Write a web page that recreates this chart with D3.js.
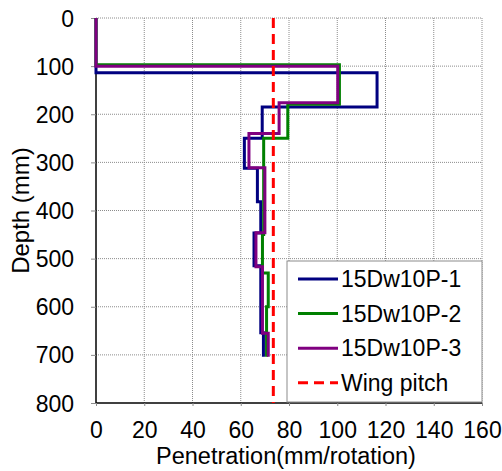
<!DOCTYPE html>
<html>
<head>
<meta charset="utf-8">
<script src="https://cdn.jsdelivr.net/npm/d3@7"></script>
<style>
  body { margin: 0; background: #fff; }
  text { font-family: Arial, "Liberation Sans", sans-serif; fill: #000; }
</style>
</head>
<body>
<div id="chart-container"></div>
<script>
// Series data: depth boundaries (mm) and the penetration value on each interval
const names = ["15Dw10P-1", "15Dw10P-2", "15Dw10P-3"];
const colors = ["#000080", "#008000", "#800080"];

const depths1 = [0, 114, 185, 250, 312, 382, 447, 515, 654, 704];
const values1 = [0, 116.5, 68.9, 61.5, 66.9, 68.3, 65.5, 68.3, 69.4];

const depths2 = [0, 97, 179, 250, 450, 530, 600, 704];
const values2 = [0, 100.9, 79.5, 69.5, 69, 71.4, 70.7];

const depths3 = [0, 100, 176, 240, 311, 446, 517, 655, 704];
const values3 = [0, 100.2, 75.9, 63.4, 70, 66.3, 69, 71.4];

const wingPitch = 73.5;

const xTicks = [0, 20, 40, 60, 80, 100, 120, 140, 160];
const yTicks = [0, 100, 200, 300, 400, 500, 600, 700, 800];

// Dimensions
const W = 502, H = 471;
const margin = { top: 18, right: 20, bottom: 68, left: 96 };
const width = W - margin.left - margin.right;
const height = H - margin.top - margin.bottom;

const svg = d3.select("#chart-container")
  .append("svg")
  .attr("width", W)
  .attr("height", H);

const g = svg.append("g")
  .attr("transform", `translate(${margin.left},${margin.top})`);

const x = d3.scaleLinear().domain([0, 160]).range([0, width]);
const y = d3.scaleLinear().domain([0, 800]).range([0, height]);

// Gridlines (dotted gray)
g.append("g")
  .selectAll("line")
  .data(xTicks.slice(1))
  .enter()
  .append("line")
  .attr("x1", d => x(d)).attr("x2", d => x(d))
  .attr("y1", 0).attr("y2", height)
  .attr("stroke", "#8c8c8c")
  .attr("stroke-width", 1)
  .attr("stroke-dasharray", "1,1");

g.append("g")
  .selectAll("line")
  .data(yTicks.slice(0, -1))
  .enter()
  .append("line")
  .attr("x1", 0).attr("x2", width)
  .attr("y1", d => y(d)).attr("y2", d => y(d))
  .attr("stroke", "#8c8c8c")
  .attr("stroke-width", 1)
  .attr("stroke-dasharray", "1,1");

// Axes
const xAxis = g.append("g")
  .attr("transform", `translate(0,${height})`)
  .call(d3.axisBottom(x).tickValues(xTicks).tickSize(3).tickPadding(16));

const yAxis = g.append("g")
  .call(d3.axisLeft(y).tickValues(yTicks).tickSize(5).tickPadding(17));

[xAxis, yAxis].forEach(a => {
  a.select(".domain").attr("stroke", "#000").attr("stroke-width", 1.5);
  a.selectAll(".tick line").attr("stroke", "#8c8c8c");
  a.selectAll(".tick text")
    .style("font-size", "23px")
    .style("font-family", "Arial, 'Liberation Sans', sans-serif");
});
xAxis.select(".domain").attr("d", `M0,0H${width}`);
yAxis.select(".domain").attr("d", `M0,0V${height}`);
yAxis.selectAll(".tick text").attr("dy", "0.35em");

// Step lines: each value holds from depths[i] to depths[i+1]
function stepPoints(depths, values) {
  const pts = [];
  values.forEach((v, i) => {
    pts.push([v, depths[i]]);
    pts.push([v, depths[i + 1]]);
  });
  return pts;
}

const series = [
  stepPoints(depths1, values1),
  stepPoints(depths2, values2),
  stepPoints(depths3, values3)
];

const line = d3.line()
  .x(d => x(d[0]))
  .y(d => y(d[1]));

g.selectAll(".series")
  .data(series)
  .enter()
  .append("path")
  .attr("class", "series")
  .attr("d", line)
  .attr("fill", "none")
  .attr("stroke", (d, i) => colors[i])
  .attr("stroke-width", 3)
  .attr("stroke-linejoin", "miter");

// Wing pitch reference line
g.append("line")
  .attr("x1", x(wingPitch)).attr("x2", x(wingPitch))
  .attr("y1", y(0)).attr("y2", y(800))
  .attr("stroke", "#ff0000")
  .attr("stroke-width", 3)
  .attr("stroke-dasharray", "10,6");

// Legend
const legend = svg.append("g").attr("transform", "translate(287,261)");
legend.append("rect")
  .attr("width", 195).attr("height", 141)
  .attr("fill", "#fff")
  .attr("stroke", "#8c8c8c")
  .attr("stroke-width", 1);

const legendItems = names.map((n, i) => ({ name: n, color: colors[i], dash: null }))
  .concat([{ name: "Wing pitch", color: "#ff0000", dash: "10,6" }]);

const rows = legend.selectAll(".row")
  .data(legendItems)
  .enter()
  .append("g")
  .attr("transform", (d, i) => `translate(0,${18 + i * 34.6})`);

rows.append("line")
  .attr("x1", 11).attr("x2", 51)
  .attr("stroke", d => d.color)
  .attr("stroke-width", 3)
  .attr("stroke-dasharray", d => d.dash);

rows.append("text")
  .attr("x", 54)
  .attr("dy", "0.35em")
  .style("font-size", "23px")
  .text(d => d.name);

// Axis titles
svg.append("text")
  .attr("x", margin.left + width / 2 - 3)
  .attr("y", 464)
  .attr("text-anchor", "middle")
  .style("font-size", "23.5px")
  .text("Penetration(mm/rotation)");

svg.append("text")
  .attr("transform", `translate(29,${margin.top + height / 2}) rotate(-90)`)
  .attr("text-anchor", "middle")
  .style("font-size", "24px")
  .text("Depth (mm)");
</script>
</body>
</html>
